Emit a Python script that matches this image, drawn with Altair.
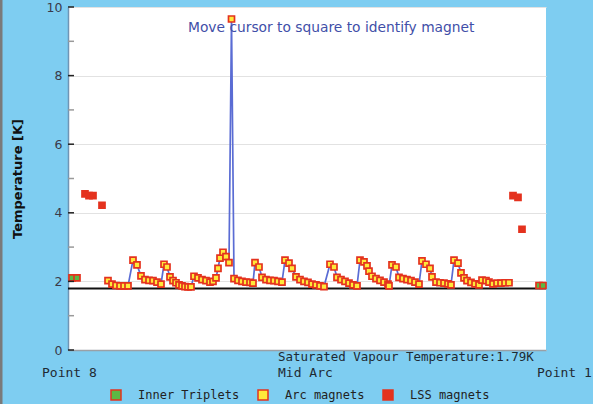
import altair as alt
import pandas as pd

# ---- data (position along the sector, arbitrary units; temperature in K) ----
arc_pos = [40, 44, 48, 52, 56, 60,
           65, 69, 73, 77, 81, 85, 89, 93,
           96, 99, 102, 105, 108, 111, 114, 117, 120, 123,
           126, 130, 134, 138, 142, 145, 148, 150, 152, 155, 158, 161,
           163.5,
           166, 170, 174, 178, 182, 185,
           187, 191, 194, 198, 202, 206, 210, 214,
           217, 221, 224, 228, 232, 236, 240, 244, 248, 252, 256,
           262, 266, 269, 273, 277, 281, 285, 289,
           292, 296, 299, 301, 304, 308, 312, 316, 320, 321,
           324, 328, 331, 335, 339, 343, 347, 351,
           354, 358, 362, 364, 368, 372, 376, 380, 383,
           386, 390, 393, 396, 399, 403, 407, 411,
           414, 418, 421, 425, 429, 433, 437, 441]
arc_temp = [2.02, 1.92, 1.88, 1.87, 1.87, 1.87,
            2.62, 2.48, 2.16, 2.05, 2.03, 2.02, 1.98, 1.92,
            2.50, 2.42, 2.13, 2.02, 1.96, 1.90, 1.87, 1.85, 1.84, 1.84,
            2.15, 2.10, 2.05, 2.02, 1.98, 2.00, 2.10, 2.38, 2.68, 2.85, 2.72, 2.55,
            9.65,
            2.08, 2.03, 2.00, 1.98, 1.97, 1.95,
            2.55, 2.42, 2.12, 2.05, 2.03, 2.02, 2.00, 1.98,
            2.62, 2.53, 2.38, 2.13, 2.05, 2.00, 1.97, 1.92, 1.90, 1.87, 1.85,
            2.50, 2.42, 2.12, 2.05, 2.00, 1.95, 1.90, 1.87,
            2.62, 2.57, 2.45, 2.30, 2.15, 2.08, 2.03, 1.98, 1.92, 1.87,
            2.48, 2.42, 2.12, 2.08, 2.05, 2.02, 1.98, 1.92,
            2.60, 2.50, 2.38, 2.13, 1.98, 1.96, 1.95, 1.93, 1.90,
            2.62, 2.53, 2.25, 2.10, 2.02, 1.97, 1.93, 1.90,
            2.04, 2.02, 1.98, 1.93, 1.95, 1.95, 1.96, 1.96]
inner_pos = [4, 9, 471, 475]
inner_temp = [2.10, 2.10, 1.88, 1.88]
lss_pos = [17, 21, 25, 34, 445, 450, 454]
lss_temp = [4.55, 4.50, 4.50, 4.22, 4.50, 4.45, 3.52]
sat_temp = 1.79
y_tick_values = list(range(0, 11))
categories = ["Inner Triplets", "Arc magnets", "LSS magnets"]

# ---- styling ----
RED = "#e4321e"
YELLOW = "#ffe93a"
GREEN = "#5cb844"
BLUE = "#5a6cd4"
BG = "#7ecdf1"
MONO = "DejaVu Sans Mono"
SANS = "DejaVu Sans"

W, H = 478, 343

points = pd.concat([
    pd.DataFrame({"pos": inner_pos, "temp": inner_temp, "type": categories[0]}),
    pd.DataFrame({"pos": arc_pos, "temp": arc_temp, "type": categories[1]}),
    pd.DataFrame({"pos": lss_pos, "temp": lss_temp, "type": categories[2]}),
], ignore_index=True)
arc = pd.DataFrame({"pos": arc_pos, "temp": arc_temp})

xs = alt.Scale(domain=[0, W], nice=False, zero=False)
ys = alt.Scale(domain=[0, 10], nice=False)

x_enc = alt.X("pos:Q", scale=xs,
              axis=alt.Axis(labels=False, ticks=False, grid=False, title=None,
                            domainColor="#9aa0a6", domainWidth=1.5))
y_enc = alt.Y("temp:Q", scale=ys,
              axis=alt.Axis(values=[0, 2, 4, 6, 8, 10], ticks=False, grid=True,
                            gridColor="#e2e2e2", gridWidth=1,
                            labelFont=SANS, labelFontSize=12.5, labelColor="#3a3a4a",
                            labelPadding=6, domainColor="#6f95b5", domainWidth=1.5,
                            title="Temperature [K]", titleFont=SANS, titleFontSize=13,
                            titleFontWeight="bold", titleColor="#111111",
                            titlePadding=22))

line = alt.Chart(arc).mark_line(color=BLUE, strokeWidth=1.7).encode(
    x=x_enc, y=y_enc, order="pos:Q")

sat = alt.Chart(pd.DataFrame({"temp": [sat_temp]})).mark_rule(
    color="#111111", strokeWidth=2).encode(y=alt.Y("temp:Q", scale=ys))

ticks = alt.Chart(pd.DataFrame({"temp": y_tick_values})).transform_calculate(
    major="datum.temp % 2 == 0").mark_rule(strokeWidth=1.5).encode(
    y=alt.Y("temp:Q", scale=ys),
    x=alt.value(0), x2=alt.value(6),
    color=alt.condition("datum.major", alt.value("#222222"), alt.value("#9a9a9a")))

pts = alt.Chart(points).mark_square(size=36, stroke=RED, strokeWidth=1.7,
                                     opacity=1).encode(
    x=x_enc, y=y_enc,
    fill=alt.Fill("type:N",
                  scale=alt.Scale(domain=categories, range=[GREEN, YELLOW, RED]),
                  legend=alt.Legend(orient="none", legendX=42, legendY=382,
                                    direction="horizontal", title=None,
                                    symbolType="square", symbolSize=100,
                                    symbolStrokeColor=RED, symbolStrokeWidth=1.5,
                                    symbolOpacity=1, symbolFillColor=YELLOW,
                                    labelFont=MONO, labelFontSize=12,
                                    labelColor="#222222", labelOffset=16,
                                    columnPadding=15, padding=0)),
    order=alt.Order("pos:Q"))

def label(txt, x, y, size=13, font=MONO, color="#1e2a33", align="left"):
    return alt.Chart(pd.DataFrame({"t": [txt]})).mark_text(
        font=font, fontSize=size, color=color, align=align, baseline="middle"
    ).encode(text="t:N", x=alt.value(x), y=alt.value(y))

texts = (
    label("Move cursor to square to identify magnet", 120, 21, size=13.8,
          font=SANS, color="#3f4fa8")
    + label("Saturated Vapour Temperature:1.79K", 210, 350, size=12.5)
    + label("Point 8", -26, 366)
    + label("Mid Arc", 210, 366)
    + label("Point 1", 469, 366)
)

strip = alt.Chart(pd.DataFrame({"a": [0]})).mark_rule(
    color="#7a7a7a", strokeWidth=3).encode(
    x=alt.value(-67), y=alt.value(-7), y2=alt.value(397))

chart = alt.layer(line, sat, pts, ticks, texts, strip).properties(
    width=W, height=H,
    autosize=alt.AutoSizeParams(type="none"),
    padding={"left": 68, "top": 7, "right": 47, "bottom": 54},
).configure(background=BG).configure_view(fill="white", stroke=None)

chart.save("out.html", embed_options={"renderer": "svg", "actions": False})
